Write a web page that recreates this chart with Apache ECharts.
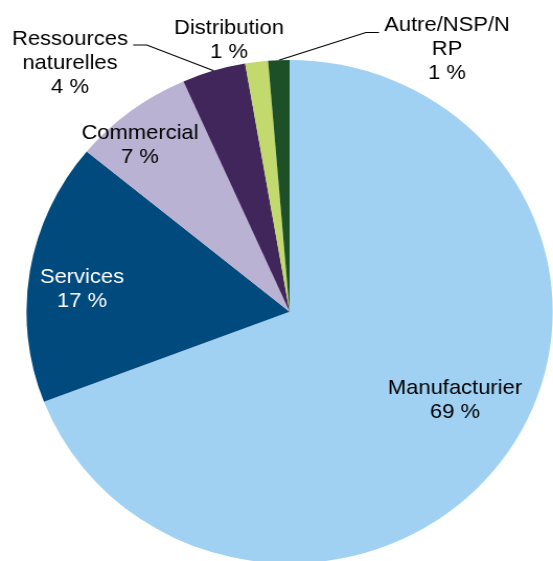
<!DOCTYPE html>
<html><head><meta charset="utf-8">
<script src="https://cdn.jsdelivr.net/npm/echarts@6/dist/echarts.min.js"></script>
<style>html,body{margin:0;padding:0;background:#fff;overflow:hidden}
#c{width:529px;height:561px;transform:scaleX(1.0454);transform-origin:0 0;}</style>
</head><body><div id="c"></div>
<script>
const categories = ['Manufacturier','Services','Commercial','Ressources\nnaturelles','Distribution','Autre/NSP/N\nRP'];
const values = [69.1, 16.8, 7.4, 3.9, 1.4, 1.3];
const colors = ['#A0D1F3','#004A7E','#B9B2D3','#41265C','#C2D96E','#1E5028'];
const labelColors = ['#000','#fff','#000','#000','#000','#000'];
const insideLabel = [true,true,true,false,false,false];
const showLine = [false,false,false,true,false,true];
const SX = 1.0454;
// label block centres in page pixels
const labelCenters = [[455,400],[82,289.5],[140,145],[70,63],[229,40.5],[447,49.5]];

const data = categories.map((name,i)=>({
  name, value: values[i],
  itemStyle:{color:colors[i]},
  label:{position: insideLabel[i]?'inside':'outside', color: labelColors[i]},
  labelLine:{show: showLine[i]}
}));

const chart = echarts.init(document.getElementById('c'), null, {renderer:'canvas'});
chart.setOption({
  animation:false,
  backgroundColor:'#fff',
  series:[{
    type:'pie',
    center:[277,311.7],
    radius:251.7,
    startAngle:90,
    clockwise:true,
    avoidLabelOverlap:false,
    silent:true,
    data,
    label:{
      fontFamily:'"Liberation Sans", Arial, sans-serif',
      fontSize:21,
      lineHeight:24,
      align:'center',
      overflow:'none',
      formatter:p=>p.name+'\n'+Math.round(p.value)+' %'
    },
    labelLine:{lineStyle:{color:'#000',width:1.2},length:10,length2:10},
    labelLayout:function(p){
      const i=p.dataIndex;
      const x=labelCenters[i][0]/SX, y=labelCenters[i][1];
      const res={x:x,y:y,align:'center',verticalAlign:'middle'};
      const w=p.labelRect.width;
      if(i===3 && p.labelLinePoints){
        const r=x+w/2;
        res.labelLinePoints=[p.labelLinePoints[0],[r+18,y-18],[r+5,y-18]];
      }
      if(i===5 && p.labelLinePoints){
        const l=x-w/2;
        res.labelLinePoints=[p.labelLinePoints[0],[l-17.5,y-17],[l-5,y-17]];
      }
      return res;
    }
  }]
});
</script></body></html>
